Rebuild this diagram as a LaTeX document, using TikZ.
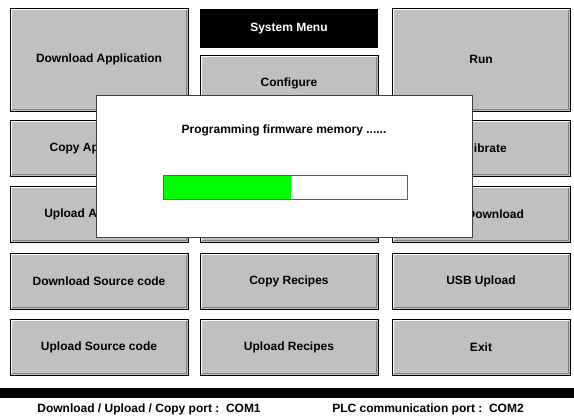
\documentclass[tikz,border=0pt]{standalone}
\usepackage{fontspec}
\setmainfont{Liberation Sans}
\begin{document}
\begin{tikzpicture}[x=1pt,y=-1pt,
  every node/.style={inner sep=0pt, outer sep=0pt, font=\bfseries\fontsize{12}{14}\selectfont},
  btn/.style={anchor=north west, fill=btngray, draw=black, line width=1pt,
    minimum width=178pt, minimum height=56pt,
    path picture={
      \draw[white, line width=1pt]
        ([shift={(1.5pt,1.5pt)}]path picture bounding box.south west)
        |- ([shift={(-1.5pt,-1.5pt)}]path picture bounding box.north east);
      \draw[btndark, line width=1pt]
        ([shift={(1.5pt,1.5pt)}]path picture bounding box.south west)
        -| ([shift={(-1.5pt,-1.5pt)}]path picture bounding box.north east);
    }},
  tall/.style={minimum height=103pt},
  dialog/.style={anchor=north west, fill=white, draw=dlgborder, line width=1pt,
    minimum width=376pt, minimum height=142pt}
]
\definecolor{btngray}{HTML}{C0C0C0}
\definecolor{btndark}{HTML}{808080}
\definecolor{dlgborder}{HTML}{404040}
\definecolor{barborder}{HTML}{606060}
\definecolor{bargreen}{HTML}{00FF00}

\useasboundingbox (0,0) rectangle (574,416);
\fill[white] (0,0) rectangle (574,416);

% left column
\node[btn, tall] (dlapp) at (10,8) {Download Application};
\node[btn] (cpapp) at (10,120) {Copy Application};
\node[btn] (upapp) at (10,186) {Upload Application};
\node[btn] (dlsrc) at (10,253) {Download Source code};
\node[btn] (upsrc) at (10,319) {Upload Source code};

% middle column
\node[anchor=north west, fill=black, minimum width=178pt, minimum height=39pt,
      text=white] (sysmenu) at (200,9) {System Menu};
\node[btn] (config) at (200,55) {Configure};
\node[btn] (mid2) at (200,120) {};
\node[btn] (mid3) at (200,186) {};
\node[btn] (cprec) at (200,253) {Copy Recipes};
\node[btn] (uprec) at (200,319) {Upload Recipes};

% right column
\node[btn, tall] (run) at (392,8) {Run};
\node[btn] (calib) at (392,120) {Calibrate};
\node[btn] (usbdl) at (392,186) {USB Download};
\node[btn] (usbul) at (392,253) {USB Upload};
\node[btn] (exit) at (392,319) {Exit};

% progress dialog
\node[dialog] (dlg) at (96,95) {};
\node (msg) at (284,130) {Programming firmware memory ......};
\node[anchor=north west, draw=barborder, line width=1pt, fill=white,
      minimum width=244pt, minimum height=24pt] (bar) at (163,175) {};
\fill[bargreen] ([shift={(0.5pt,-0.5pt)}]bar.north west) rectangle (291,198.5);
\draw[barborder, line width=1pt] (bar.north west) rectangle (bar.south east);

% status line
\fill[black] (0,388) rectangle (574,398);
\node (port1) at (149,409) {Download / Upload / Copy port :\ \ COM1};
\node (port2) at (428,409) {PLC communication port :\ \ COM2};
\end{tikzpicture}
\end{document}
